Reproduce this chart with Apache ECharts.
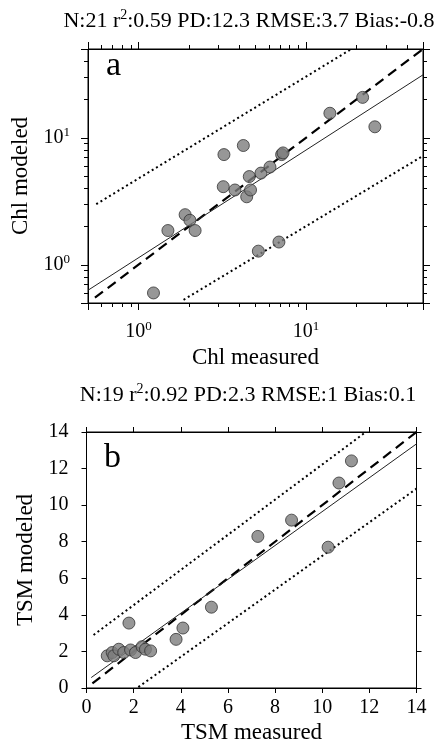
<!DOCTYPE html>
<html>
<head>
<meta charset="utf-8">
<script src="https://cdn.jsdelivr.net/npm/echarts@6/dist/echarts.min.js"></script>
<style>
html,body{margin:0;padding:0;background:#fff;}
#chart{width:442px;height:745px;}
</style>
</head>
<body>
<div id="chart"></div>
<script>
// ---- Panel a: Chl (log-log) ----
const chlMeasured = [1.23, 1.50, 1.90, 2.03, 2.18, 3.24, 3.21, 3.77, 4.23, 4.43, 4.59, 4.67, 5.2, 5.39, 6.1, 6.9, 7.16, 7.3, 13.9, 21.8, 25.8];
const chlModeled  = [0.60, 1.86, 2.48, 2.24, 1.86, 7.37, 4.12, 3.88, 8.69, 3.43, 4.95, 3.88, 1.28, 5.27, 5.88, 1.51, 7.37, 7.6, 15.6, 20.8, 12.2];
const chlOneToOne   = [[0.55, 0.55], [50, 50]];
const chlFit        = [[0.5, 0.63], [50, 31.3]];
const chlUpperBound = [[0.56, 3.0], [18.7, 50]];
const chlLowerBound = [[1.86, 0.53], [50, 7.2]];
const chlMinorTicks  = [0.6, 0.7, 0.8, 0.9, 2, 3, 4, 5, 6, 7, 8, 9, 20, 30, 40];
const chlLabelValues = [1, 10];
const chlStats = ['N:21 r', '2', ':0.59 PD:12.3 RMSE:3.7 Bias:-0.8'];

// ---- Panel b: TSM (linear) ----
const tsmMeasured = [0.88, 1.09, 1.16, 1.37, 1.58, 1.87, 2.08, 2.36, 2.50, 2.72, 1.80, 3.80, 4.09, 5.30, 7.27, 8.70, 10.25, 10.71, 11.24];
const tsmModeled  = [1.76, 1.94, 1.76, 2.12, 1.94, 2.08, 1.94, 2.26, 2.12, 2.03, 3.55, 2.66, 3.28, 4.42, 8.29, 9.18, 7.70, 11.21, 12.42];
const tsmOneToOne   = [[0.25, 0.25], [14, 14]];
const tsmFit        = [[0.2, 0.57], [14, 13.35]];
const tsmUpperBound = [[0.3, 2.9], [11.85, 14]];
const tsmLowerBound = [[2.2, 0.05], [14, 10.9]];
const tsmStats = ['N:19 r', '2', ':0.92 PD:2.3 RMSE:1 Bias:0.1'];

const FONT = '"Liberation Serif", "Times New Roman", serif';
const chart = echarts.init(document.getElementById('chart'), null, {renderer: 'canvas'});

const pts = (xs, ys) => xs.map((x, i) => [x, ys[i]]);
const supRich = {
  b: {fontFamily: FONT, fontSize: 20, color: '#000', lineHeight: 24},
  s: {fontFamily: FONT, fontSize: 13, color: '#000', verticalAlign: 'top', lineHeight: 24}
};
const powLabel = v => '{b|10}{s|' + Math.round(Math.log10(v)) + '}';
const LOG_MIN = 0.5, LOG_MAX = 50;

function logAxis(extra) {
  return Object.assign({
    type: 'log', logBase: 10, min: LOG_MIN, max: LOG_MAX,
    axisLine: {show: true, onZero: false, lineStyle: {color: '#000', width: 1}},
    axisTick: {show: true, length: 7, lineStyle: {color: '#000'}},
    splitLine: {show: false},
    axisLabel: {show: false}
  }, extra);
}
// tick-only helper axis in exponent space for the log minor ticks
function minorAxis(extra) {
  return Object.assign({
    type: 'value', min: Math.log10(LOG_MIN), max: Math.log10(LOG_MAX),
    axisLine: {show: false, onZero: false},
    axisTick: {show: true, length: 4, customValues: chlMinorTicks.map(v => Math.log10(v)), lineStyle: {color: '#000'}},
    splitLine: {show: false},
    axisLabel: {show: false},
    silent: true
  }, extra);
}
function linAxis(extra) {
  return Object.assign({
    type: 'value', min: 0, max: 14, interval: 2,
    axisLine: {show: true, onZero: false, lineStyle: {color: '#000', width: 1}},
    axisTick: {show: true, length: 5, lineStyle: {color: '#000'}},
    splitLine: {show: false},
    axisLabel: {show: false}
  }, extra);
}
const nameStyle = {fontFamily: FONT, fontSize: 23, color: '#000'};

function lineSeries(data, xi, yi, style) {
  return {type: 'line', data: data, xAxisIndex: xi, yAxisIndex: yi, symbol: 'none',
    lineStyle: style, silent: true, z: 2, animation: false};
}
const dashed = {color: '#000', width: 2.2, type: [10, 6]};
const solid = {color: '#222', width: 1};
const dotted = {color: '#000', width: 2, type: [2, 3]};
const markerStyle = {color: '#7d7d7d', borderColor: '#333', borderWidth: 1};

const option = {
  backgroundColor: '#fff',
  animation: false,
  grid: [
    {left: 88, top: 49, width: 335, height: 254, show: true, borderColor: '#000', borderWidth: 1, containLabel: false},
    {left: 86.5, top: 432, width: 330, height: 262, show: true, borderColor: '#000', borderWidth: 1, containLabel: false}
  ],
  xAxis: [
    logAxis({gridIndex: 0, position: 'bottom',
      name: 'Chl measured', nameLocation: 'middle', nameGap: 43, nameTextStyle: nameStyle,
      axisLabel: {show: true, customValues: chlLabelValues, margin: 17, formatter: powLabel, rich: supRich}}),
    logAxis({gridIndex: 0, position: 'top'}),
    minorAxis({gridIndex: 0, position: 'bottom'}),
    minorAxis({gridIndex: 0, position: 'top'}),
    linAxis({gridIndex: 1, position: 'bottom',
      name: 'TSM measured', nameLocation: 'middle', nameGap: 33, nameTextStyle: nameStyle,
      axisLabel: {show: true, margin: 10, fontFamily: FONT, fontSize: 20, color: '#000'}}),
    linAxis({gridIndex: 1, position: 'top'})
  ],
  yAxis: [
    logAxis({gridIndex: 0, position: 'left',
      name: 'Chl modeled', nameLocation: 'middle', nameGap: 48, nameTextStyle: nameStyle,
      axisLabel: {show: true, customValues: chlLabelValues, margin: 18, formatter: powLabel, rich: supRich}}),
    logAxis({gridIndex: 0, position: 'right'}),
    minorAxis({gridIndex: 0, position: 'left'}),
    minorAxis({gridIndex: 0, position: 'right'}),
    linAxis({gridIndex: 1, position: 'left',
      name: 'TSM modeled', nameLocation: 'middle', nameGap: 48, nameTextStyle: nameStyle,
      axisLabel: {show: true, margin: 18, fontFamily: FONT, fontSize: 20, color: '#000'}}),
    linAxis({gridIndex: 1, position: 'right'})
  ],
  series: [
    lineSeries(chlOneToOne, 0, 0, dashed),
    lineSeries(chlFit, 0, 0, solid),
    lineSeries(chlUpperBound, 0, 0, dotted),
    lineSeries(chlLowerBound, 0, 0, dotted),
    {type: 'scatter', xAxisIndex: 0, yAxisIndex: 0, data: pts(chlMeasured, chlModeled),
      symbol: 'circle', symbolSize: 12, itemStyle: markerStyle, z: 3},
    lineSeries(tsmOneToOne, 4, 4, dashed),
    lineSeries(tsmFit, 4, 4, solid),
    lineSeries(tsmUpperBound, 4, 4, dotted),
    lineSeries(tsmLowerBound, 4, 4, dotted),
    {type: 'scatter', xAxisIndex: 4, yAxisIndex: 4, data: pts(tsmMeasured, tsmModeled),
      symbol: 'circle', symbolSize: 12, itemStyle: markerStyle, z: 3}
  ],
  graphic: [
    {type: 'text', x: 249, y: 21, z: 10, style: {
      text: '{n|' + chlStats[0] + '}{s|' + chlStats[1] + '}{n|' + chlStats[2] + '}',
      align: 'center', verticalAlign: 'middle',
      rich: {n: {fontFamily: FONT, fontSize: 22, fill: '#000', lineHeight: 26},
             s: {fontFamily: FONT, fontSize: 14, fill: '#000', verticalAlign: 'top', lineHeight: 26}}}},
    {type: 'text', x: 248, y: 395, z: 10, style: {
      text: '{n|' + tsmStats[0] + '}{s|' + tsmStats[1] + '}{n|' + tsmStats[2] + '}',
      align: 'center', verticalAlign: 'middle',
      rich: {n: {fontFamily: FONT, fontSize: 22, fill: '#000', lineHeight: 26},
             s: {fontFamily: FONT, fontSize: 14, fill: '#000', verticalAlign: 'top', lineHeight: 26}}}},
    {type: 'text', x: 106, y: 66, z: 10, style: {text: 'a', font: '34px ' + FONT, fill: '#000', align: 'left', verticalAlign: 'middle'}},
    {type: 'text', x: 104, y: 458, z: 10, style: {text: 'b', font: '34px ' + FONT, fill: '#000', align: 'left', verticalAlign: 'middle'}}
  ]
};
chart.setOption(option);
</script>
</body>
</html>
